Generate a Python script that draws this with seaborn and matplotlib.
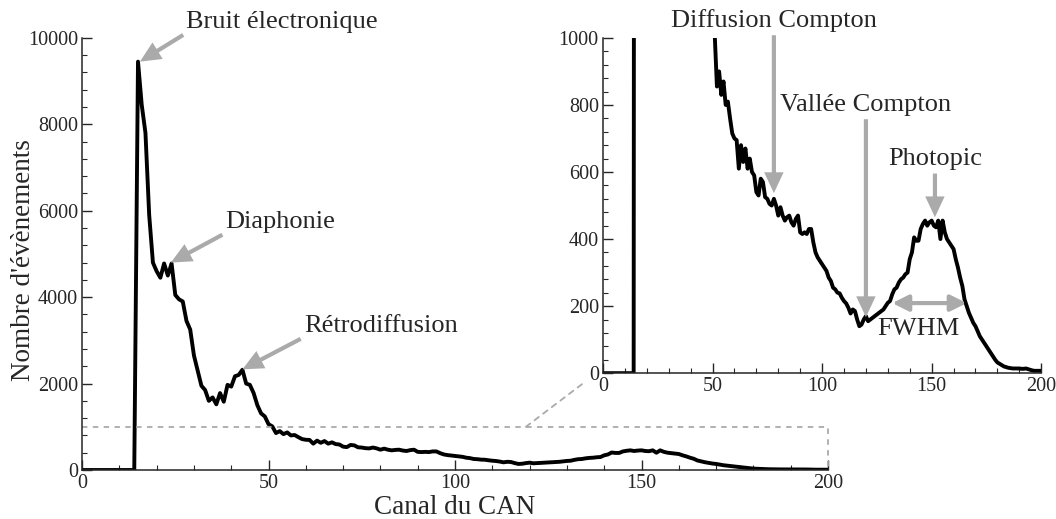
import numpy as np
import pandas as pd
import matplotlib
matplotlib.use("Agg")
import matplotlib.pyplot as plt
from matplotlib.patches import ConnectionPatch
from matplotlib.ticker import MultipleLocator
import seaborn as sns

# counts per ADC channel (0..200)
counts = [0] * 15 + [
    9450, 8450, 7800, 5900, 4800, 4600, 4450, 4780, 4500, 4780,   # 15-24
    4050, 3950, 3900, 3450, 3250, 2650, 2300, 1950, 1850, 1600,   # 25-34
    1680, 1520, 1780, 1580, 1970, 1930, 2170, 2200, 2320, 2000,   # 35-44
    1970, 1780, 1500, 1310, 1240, 1060, 1010, 855, 900, 830,      # 45-54
    870, 800, 810, 760, 715, 700, 695, 610, 680, 630,             # 55-64
    670, 610, 640, 600, 590, 540, 530, 580, 570, 525,             # 65-74
    520, 505, 500, 520, 500, 470, 495, 470, 455, 465,             # 75-84
    470, 450, 440, 460, 470, 420, 415, 420, 415, 430,             # 85-94
    430, 390, 360, 345, 335, 325, 315, 305, 285, 275,             # 95-104
    255, 250, 240, 238, 225, 215, 208, 195, 178, 190,             # 105-114
    185, 160, 140, 145, 160, 170, 155, 160, 165, 170,             # 115-124
    175, 180, 185, 190, 200, 210, 215, 235, 250, 255,             # 125-134
    270, 280, 285, 295, 300, 340, 360, 405, 395, 395,             # 135-144
    430, 445, 455, 440, 450, 455, 440, 435, 455, 400,             # 145-154
    455, 420, 400, 390, 380, 370, 340, 315, 285, 260,             # 155-164
    220, 200, 180, 165, 150, 140, 125, 110, 100, 90,              # 165-174
    80, 70, 60, 50, 40, 32, 28, 24, 20, 18,                       # 175-184
    16, 15, 14, 14, 14, 14, 13, 13, 14, 12,                       # 185-194
    10, 8, 7, 7, 7, 7,                                            # 195-200
]
channels = list(range(len(counts)))

main_labels = ["Bruit électronique", "Diaphonie", "Rétrodiffusion"]
inset_labels = ["Diffusion Compton", "Vallée Compton", "Photopic", "FWHM"]

df = pd.DataFrame({"canal": channels, "n": counts})

sns.set_style("ticks")
plt.rcParams["font.family"] = ["Liberation Serif", "DejaVu Serif"]

fig = plt.figure(figsize=(10.56, 5.19), dpi=100)
ax = fig.add_axes([0.0777, 0.0944, 0.7064, 0.8326])
ins = fig.add_axes([0.571, 0.281, 0.415, 0.646])
ins.set_zorder(5)
ins.set_facecolor("white")

grey = "#aaaaaa"

for a in (ax, ins):
    sns.lineplot(data=df, x="canal", y="n", ax=a, color="black", linewidth=2.8)
    a.spines["top"].set_visible(False)
    a.spines["right"].set_visible(False)
    for s in ("left", "bottom"):
        a.spines[s].set_linewidth(1.1)
    a.tick_params(which="major", direction="in", length=7, width=1, labelsize=14.5, pad=3)
    a.tick_params(which="minor", direction="in", length=3.5, width=0.8)
    a.set_xlim(0, 200)
    a.xaxis.set_major_locator(MultipleLocator(50))
    a.xaxis.set_minor_locator(MultipleLocator(10))

ax.set_ylim(0, 10000)
ax.yaxis.set_major_locator(MultipleLocator(2000))
ax.yaxis.set_minor_locator(MultipleLocator(400))
ax.set_xlabel("Canal du CAN", fontsize=19.5, labelpad=1)
ax.set_ylabel("Nombre d'évènements", fontsize=19.5, va="center")
ax.yaxis.set_label_coords(-0.078, 0.485)

ins.set_ylim(0, 1000)
ins.yaxis.set_major_locator(MultipleLocator(200))
ins.yaxis.set_minor_locator(MultipleLocator(40))
ins.set_xlabel("")
ins.set_ylabel("")

# zoom box + link to inset
ax.plot([0, 200, 200], [1000, 1000, 0], color=grey, linestyle=(0, (3, 3)),
        linewidth=1.3, clip_on=False)
con = ConnectionPatch(xyA=(119, 1000), coordsA=ax.transData,
                      xyB=(-0.04, -0.025), coordsB=ins.transAxes,
                      color=grey, linestyle=(0, (3, 3)), linewidth=1.3)
fig.add_artist(con)

arrow = dict(facecolor=grey, edgecolor="none", width=3, headwidth=14,
             headlength=15, shrink=0)

ax.annotate(main_labels[0], xy=(15.5, 9450), xytext=(28, 10370),
            fontsize=19, ha="left", va="center", arrowprops=arrow,
            annotation_clip=False)
ax.annotate(main_labels[1], xy=(23.8, 4800), xytext=(38.5, 5740),
            fontsize=19, ha="left", va="center", arrowprops=arrow)
ax.annotate(main_labels[2], xy=(43, 2330), xytext=(59.5, 3330),
            fontsize=19, ha="left", va="center", arrowprops=arrow)

ins.annotate(inset_labels[0], xy=(78, 537), xytext=(78, 1052),
             fontsize=19, ha="center", va="center", arrowprops=arrow,
             annotation_clip=False)
ins.annotate(inset_labels[1], xy=(120, 167), xytext=(120, 800),
             fontsize=19, ha="center", va="center", arrowprops=arrow)
ins.annotate(inset_labels[2], xy=(151.5, 465), xytext=(151.5, 638),
             fontsize=19, ha="center", va="center", arrowprops=arrow)
ins.annotate("", xy=(132, 209), xytext=(166, 209),
             arrowprops=dict(arrowstyle="<|-|>", color=grey, lw=3,
                             mutation_scale=24, shrinkA=0, shrinkB=0))
ins.text(144, 132, inset_labels[3], fontsize=19, ha="center", va="center")

fig.savefig("out.png", dpi=100)
